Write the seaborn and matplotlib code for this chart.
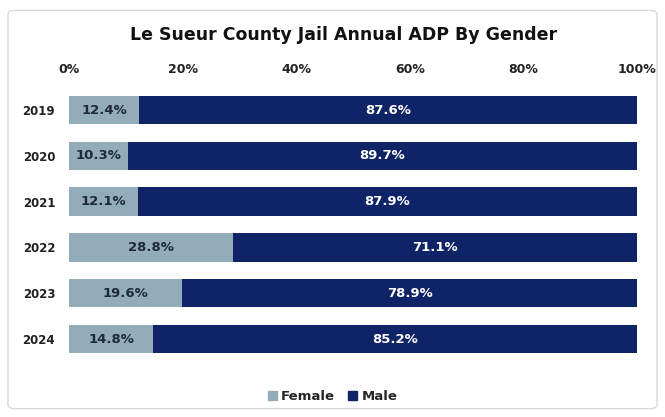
import matplotlib
matplotlib.use("Agg")
import matplotlib.pyplot as plt
import seaborn as sns
import pandas as pd
from matplotlib.patches import FancyBboxPatch, Patch

years = ["2019", "2020", "2021", "2022", "2023", "2024"]
female = [12.4, 10.3, 12.1, 28.8, 19.6, 14.8]
male = [87.6, 89.7, 87.9, 71.1, 78.9, 85.2]
xticks = [0, 20, 40, 60, 80, 100]
xticklabels = ["0%", "20%", "40%", "60%", "80%", "100%"]

female_color = "#93acba"
male_color = "#0f2467"

df = pd.DataFrame({"year": years, "female": female, "male": male})
tot = df["female"] + df["male"]
df["female_share"] = df["female"] / tot * 100
df["total_share"] = (df["female"] + df["male"]) / tot * 100

sns.set_theme(style="white")
plt.rcParams["font.family"] = ["DejaVu Sans"]

fig = plt.figure(figsize=(6.65, 4.17), dpi=100)
ax = fig.add_axes([0.1038, 0.132, 0.958 - 0.1038, 0.791 - 0.132])

sns.barplot(data=df, y="year", x="total_share", orient="h", color=male_color,
            width=0.62, ax=ax, saturation=1, edgecolor="none")
sns.barplot(data=df, y="year", x="female_share", orient="h", color=female_color,
            width=0.62, ax=ax, saturation=1, edgecolor="none")

for i, (f, m, fs) in enumerate(zip(female, male, df["female_share"])):
    ax.text(fs / 2, i, f"{f}%", ha="center", va="center", fontsize=9.5,
            fontweight="bold", color="#1d2a3a")
    ax.text(fs + (100 - fs) / 2, i, f"{m}%", ha="center", va="center", fontsize=9.5,
            fontweight="bold", color="white")

ax.set_xlim(0, 100)
ax.set_ylim(5.5, -0.5)
ax.xaxis.tick_top()
ax.set_xticks(xticks)
ax.set_xticklabels(xticklabels, fontsize=9, fontweight="bold", color="#222222")
ax.tick_params(axis="x", pad=8, length=0)
ax.tick_params(axis="y", pad=10, length=0)
for lab in ax.get_yticklabels():
    lab.set_fontsize(8.5)
    lab.set_fontweight("bold")
    lab.set_color("#222222")
ax.set_xlabel("")
ax.set_ylabel("")
for s in ax.spines.values():
    s.set_visible(False)

fig.text(0.517, 0.916, "Le Sueur County Jail Annual ADP By Gender", ha="center", va="center",
         fontsize=12.5, fontweight="bold", color="#111111")

handles = [Patch(color=female_color, label="Female"), Patch(color=male_color, label="Male")]
fig.legend(handles=handles, loc="center", bbox_to_anchor=(0.5, 0.048), ncol=2, frameon=False,
           handlelength=0.7, handleheight=0.7, handletextpad=0.3, columnspacing=1.0,
           prop={"size": 9.5, "weight": "bold"})

border = FancyBboxPatch((0.012, 0.02), 0.976, 0.955, boxstyle="round,pad=0,rounding_size=0.01",
                        transform=fig.transFigure, fill=False, edgecolor="#d9d9d9", linewidth=1.0)
fig.patches.append(border)

fig.savefig("out.png", dpi=100)
